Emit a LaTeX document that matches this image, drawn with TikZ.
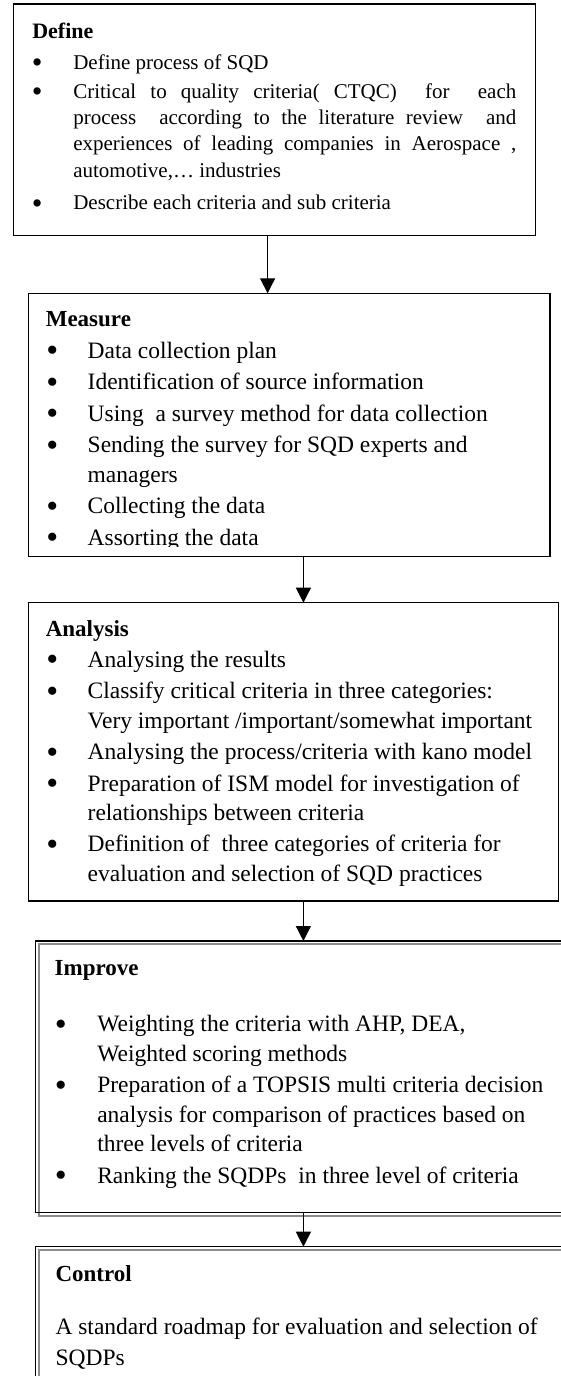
\documentclass[tikz,border=0pt]{standalone}
\usepackage{fontspec}
\usepackage{graphicx}
\setmainfont{Liberation Serif}
\usetikzlibrary{arrows.meta,shadows}

% bullet set in a fixed-width column: #1 = shift of the dot, #2 = column width
\newcommand\bigdot{\raisebox{-3.5pt}{\scalebox{1.45}{\textbullet}}}
\newcommand\dotmark[2]{\makebox[#2][l]{\hspace*{#1}\bigdot}}
\newcommand\dfi{\dotmark{-0.5pt}{41pt}}
\newcommand\dfc{\hspace*{41pt}}
\newcommand\mai{\dotmark{0.5pt}{41.9pt}}
\newcommand\mac{\hspace*{41.9pt}}
\newcommand\imi{\dotmark{0.2pt}{42.6pt}}
\newcommand\imc{\hspace*{42.6pt}}

\tikzset{
  stage/.style={draw, line width=1.2pt, inner sep=0pt, outer sep=0pt, anchor=north west},
  framed stage/.style={stage, drop shadow={shadow xshift=3pt, shadow yshift=-3pt,
      opacity=1, fill=none, draw=black!45, line width=2pt}},
  flow/.style={line width=1.3pt, -{Triangle[width=15pt,length=15pt]}},
  txt/.style={anchor=base west, inner sep=0pt, outer sep=0pt},
}

\begin{document}
\begin{tikzpicture}[x=1pt,y=-1pt]
\useasboundingbox (0,0) rectangle (561,1376);
\fill[white] (0,0) rectangle (561,1376);
\clip (0,0) rectangle (561,1376);

% the five DMAIC stages
\node[stage, minimum width=522.4pt, minimum height=231.7pt] (define) at (13.2,4) {};
\node[stage, minimum width=521.3pt, minimum height=263.4pt] (measure) at (28.6,293.3) {};
\node[stage, minimum width=530.2pt, minimum height=298.3pt] (analysis) at (28.6,602.7) {};
\node[framed stage, minimum width=600pt, minimum height=271.7pt] (improve) at (35.8,941) {};
\node[framed stage, minimum width=600pt, minimum height=200pt] (control) at (35.8,1246.7) {};

% Define
\node[txt] (definetext) at (32.3,38.3) {\parbox[t]{500pt}{\fontsize{21}{26.3}\selectfont
{\fontsize{22}{26.3}\selectfont\bfseries Define}\\[4.7pt]
\dfi Define process of SQD\\[2.7pt]
\dfi\makebox[443pt][s]{Critical to quality criteria( CTQC)~ for~ each}\\
\dfc\makebox[443pt][s]{process~ according to the literature review~ and}\\
\dfc\makebox[443pt][s]{experiences of leading companies in Aerospace ,}\\
\dfc automotive,… industries\\[6.4pt]
\dfi Describe each criteria and sub criteria}};

% Measure (last line is cut by the frame)
\begin{scope}
\clip (28.6,293.3) rectangle (549.9,546);
\node[txt] (measuretext) at (45.8,326.7) {\parbox[t]{510pt}{\fontsize{23.5}{29.5}\selectfont
{\fontsize{23}{29.5}\selectfont\bfseries Measure}\\[2pt]
\mai Data collection plan\\[2pt]
\mai Identification of source information\\[2pt]
\mai Using~ a survey method for data collection\\[2pt]
\mai Sending the survey for SQD experts and\\
\mac managers\\[2pt]
\mai Collecting the data\\[2pt]
\mai Assorting the data}};
\end{scope}

% Analysis
\node[txt] (analysistext) at (45.8,636) {\parbox[t]{510pt}{\fontsize{23.5}{29.4}\selectfont
{\fontsize{23}{29.4}\selectfont\bfseries Analysis}\\[2pt]
\mai Analysing the results\\[2pt]
\mai Classify critical criteria in three categories:\\
\mac Very important /important/somewhat important\\[2pt]
\mai Analysing the process/criteria with kano model\\[2pt]
\mai Preparation of ISM model for investigation of\\
\mac relationships between criteria\\[2pt]
\mai Definition of~ three categories of criteria for\\
\mac evaluation and selection of SQD practices}};

% Improve
\node[txt] (improvetext) at (54.7,975) {\parbox[t]{510pt}{\fontsize{23.5}{29.3}\selectfont
{\fontsize{23}{29.3}\selectfont\bfseries Improve}\\[27.4pt]
\imi Weighting the criteria with AHP, DEA,\\
\imc Weighted scoring methods\\[2.4pt]
\imi Preparation of a TOPSIS multi criteria decision\\
\imc analysis for comparison of practices based on\\
\imc three levels of criteria\\[2.4pt]
\imi Ranking the SQDPs~ in three level of criteria}};

% Control
\node[txt] (controltext) at (55.5,1281) {\parbox[t]{510pt}{\fontsize{23.5}{30.7}\selectfont
{\fontsize{23}{30.7}\selectfont\bfseries Control}\\[22.6pt]
A standard roadmap for evaluation and selection of\\
SQDPs}};

% connectors
\coordinate (ax1) at (267.6,0);
\coordinate (ax2) at (303.4,0);
\draw[flow] (define.south -| ax1) -- (measure.north -| ax1);
\draw[flow] (measure.south -| ax2) -- (analysis.north -| ax2);
\draw[flow] (analysis.south -| ax2) -- (improve.north -| ax2);
\draw[flow] (improve.south -| ax2) -- (control.north -| ax2);
\end{tikzpicture}
\end{document}
